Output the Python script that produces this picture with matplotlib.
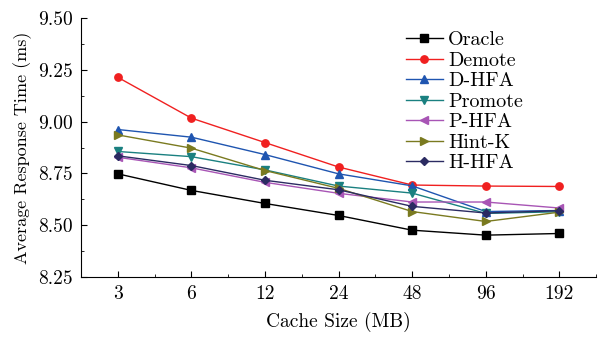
import matplotlib.pyplot as plt
from matplotlib.ticker import MultipleLocator

plt.rcParams['font.family'] = 'cmr10'
plt.rcParams['mathtext.fontset'] = 'cm'
plt.rcParams['axes.formatter.use_mathtext'] = True

cache_sizes = ['3', '6', '12', '24', '48', '96', '192']

oracle = [8.748, 8.668, 8.605, 8.547, 8.476, 8.452, 8.460]
demote = [9.214, 9.017, 8.899, 8.781, 8.694, 8.689, 8.687]
d_hfa = [8.962, 8.925, 8.841, 8.748, 8.690, 8.566, 8.571]
promote = [8.856, 8.831, 8.767, 8.689, 8.655, 8.557, 8.565]
p_hfa = [8.828, 8.777, 8.707, 8.654, 8.612, 8.612, 8.583]
hint_k = [8.936, 8.872, 8.764, 8.678, 8.566, 8.518, 8.563]
h_hfa = [8.835, 8.788, 8.717, 8.671, 8.591, 8.559, 8.570]

series = [
    ('Oracle', oracle, 's', '#000000'),
    ('Demote', demote, 'o', '#f02020'),
    ('D-HFA', d_hfa, '^', '#1f55b0'),
    ('Promote', promote, 'v', '#1a8080'),
    ('P-HFA', p_hfa, '<', '#a855b5'),
    ('Hint-K', hint_k, '>', '#7a7a20'),
    ('H-HFA', h_hfa, 'D', '#2b2b62'),
]


def main():
    fig = plt.figure(figsize=(6.11, 3.38), dpi=100)
    ax = fig.add_axes([0.1326, 0.1805, 0.843, 0.766])
    x = list(range(len(cache_sizes)))
    for name, vals, mk, col in series:
        ms = 4.5 if mk == 'D' else 5.3
        ax.plot(x, vals, marker=mk, color=col, label=name, lw=1.0, ms=ms)

    ax.set_xlim(-0.5, 6.5)
    ax.set_ylim(8.25, 9.50)
    ax.set_xticks(x)
    ax.set_xticklabels(cache_sizes)
    ax.xaxis.set_minor_locator(MultipleLocator(0.5))
    ax.yaxis.set_major_locator(MultipleLocator(0.25))
    ax.yaxis.set_minor_locator(MultipleLocator(0.125))
    ax.yaxis.set_major_formatter(plt.FormatStrFormatter('%.2f'))
    ax.tick_params(direction='in', labelsize=14, length=4, pad=6)
    ax.tick_params(which='minor', direction='in', length=2.5)
    ax.spines['top'].set_visible(False)
    ax.spines['right'].set_visible(False)
    ax.set_xlabel('Cache Size (MB)', fontsize=14, labelpad=6)
    ax.set_ylabel('Average Response Time (ms)', fontsize=13, labelpad=4)

    ax.legend(loc='upper left', bbox_to_anchor=(0.615, 0.98), frameon=False,
              fontsize=14.5, handlelength=1.85, labelspacing=0.12,
              handletextpad=0.25, borderaxespad=0)
    fig.savefig('out.png', dpi=100)


if __name__ == "__main__":
    main()
